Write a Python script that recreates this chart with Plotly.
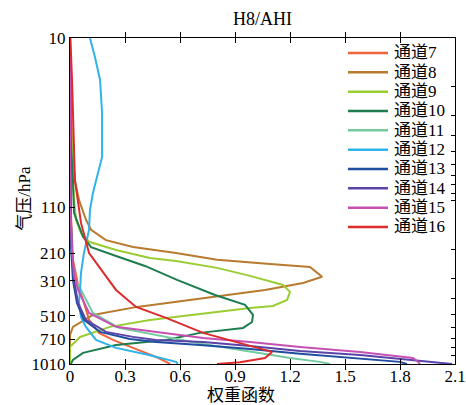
import plotly.graph_objects as go

# ---- data (weighting function vs pressure) ----
channels = ["通道7", "通道8", "通道9", "通道10", "通道11", "通道12", "通道13", "通道14", "通道15", "通道16"]
colors = ["#f0643c", "#b87a2e", "#9acd32", "#1e7d4e", "#74cba0", "#2fb3ea", "#1f4ea0", "#5a44a8", "#c451b3", "#dc2b2b"]

p7 = [10, 100, 231, 330, 425, 541, 650, 718, 804, 914, 980, 1010]
w7 = [0, 0.002, 0.016, 0.044, 0.076, 0.104, 0.158, 0.235, 0.344, 0.469, 0.524, 0.546]

p8 = [10, 24, 49, 75, 99, 131, 151, 175, 193, 210, 231, 245, 256, 294, 321, 354, 380, 413, 450, 504, 597, 669, 1010]
w8 = [0, 0.005, 0.011, 0.027, 0.049, 0.087, 0.115, 0.196, 0.344, 0.578, 0.802, 1.091, 1.309, 1.375, 1.271, 1.064, 0.857, 0.60, 0.366, 0.125, 0.016, 0.0, 0.0]

p9 = [10, 32, 75, 99, 131, 158, 179, 201, 225, 235, 259, 290, 330, 364, 408, 444, 457, 504, 541, 597, 689, 793, 1010]
w9 = [0, 0.005, 0.016, 0.022, 0.033, 0.06, 0.104, 0.251, 0.436, 0.578, 0.802, 0.982, 1.162, 1.2, 1.184, 1.107, 0.982, 0.671, 0.436, 0.218, 0.055, 0, 0]

p10 = [10, 40, 75, 119, 167, 193, 219, 252, 307, 380, 437, 504, 557, 606, 650, 718, 771, 863, 953, 1010]
w10 = [0, 0.003, 0.016, 0.022, 0.071, 0.115, 0.251, 0.409, 0.584, 0.791, 0.955, 0.998, 0.993, 0.944, 0.709, 0.524, 0.251, 0.071, 0.016, 0.005]

p11 = [10, 100, 231, 307, 354, 490, 606, 669, 760, 851, 927, 980, 1010]
w11 = [0, 0.002, 0.011, 0.027, 0.06, 0.125, 0.267, 0.469, 0.726, 0.998, 1.2, 1.364, 1.418]

p12 = [10, 13.1, 18.1, 28.9, 53.9, 67.6, 89.7, 114, 151, 210, 278, 354, 425, 518, 597, 718, 804, 888, 980, 1010]
w12 = [0.109, 0.136, 0.164, 0.175, 0.175, 0.153, 0.125, 0.109, 0.104, 0.076, 0.06, 0.055, 0.049, 0.06, 0.087, 0.142, 0.251, 0.431, 0.578, 0.589]

p13 = [10, 100, 187, 307, 425, 541, 641, 708, 739, 771, 816, 875, 927, 980, 1010]
w13 = [0, 0.001, 0.005, 0.016, 0.038, 0.076, 0.164, 0.327, 0.469, 0.709, 0.982, 1.255, 1.528, 1.80, 1.838]

p14 = [10, 100, 201, 307, 425, 541, 641, 688, 718, 739, 782, 839, 888, 953, 1010]
w14 = [0, 0.001, 0.011, 0.022, 0.044, 0.087, 0.196, 0.344, 0.469, 0.726, 0.982, 1.255, 1.582, 1.871, 2.084]

p15 = [10, 100, 201, 286, 354, 490, 597, 641, 698, 739, 793, 851, 927, 980, 1010]
w15 = [0, 0.001, 0.011, 0.022, 0.044, 0.104, 0.251, 0.469, 0.726, 0.982, 1.255, 1.582, 1.871, 1.899, 1.909]

p16 = [10, 18, 75, 99, 137, 210, 294, 354, 450, 526, 650, 771, 851, 927, 985, 1010]
w16 = [0.002, 0.011, 0.027, 0.044, 0.06, 0.104, 0.196, 0.251, 0.36, 0.524, 0.726, 0.966, 1.102, 1.064, 0.927, 0.802]

pressures = [p7, p8, p9, p10, p11, p12, p13, p14, p15, p16]
weights = [w7, w8, w9, w10, w11, w12, w13, w14, w15, w16]

ytick_vals = [10, 110, 210, 310, 510, 710, 1010]
ytick_text = ["10", "110", "210", "310", "510", "710", "1010"]
xtick_vals = [0, 0.3, 0.6, 0.9, 1.2, 1.5, 1.8, 2.1]
xtick_text = ["0", "0.3", "0.6", "0.9", "1.2", "1.5", "1.8", "2.1"]
minor_p = [20, 30, 40, 50, 60, 70, 80, 90, 100, 200, 300, 400, 500, 600, 700, 800, 900, 1000]

SERIF = "Liberation Serif, Times New Roman, Noto Sans CJK SC, serif"

fig = go.Figure()
for name, col, p, w in zip(channels, colors, pressures, weights):
    fig.add_trace(go.Scatter(x=w, y=p, mode="lines", name=name, showlegend=False,
                             line=dict(color=col, width=2)))

# invisible trace on secondary y-axis for right-side minor ticks
fig.add_trace(go.Scatter(x=[0], y=[100], yaxis="y2", mode="markers",
                         marker=dict(opacity=0), showlegend=False, hoverinfo="skip"))

# legend drawn inside the plot (top right), one row per channel
shapes = []
annotations = []
row0, rowstep = 0.954, 0.0593
for i, (name, col) in enumerate(zip(channels, colors)):
    yy = row0 - i * rowstep
    shapes.append(dict(type="line", xref="paper", yref="paper",
                       x0=0.722, x1=0.826, y0=yy, y1=yy,
                       line=dict(color=col, width=2.5)))
    annotations.append(dict(text=name, xref="paper", yref="paper", x=0.836, y=yy,
                            xanchor="left", yanchor="middle", showarrow=False,
                            font=dict(family=SERIF, size=17, color="black")))

annotations += [
    dict(text="权重函数", xref="paper", yref="paper", x=0.445, y=-0.097,
         xanchor="center", yanchor="middle", showarrow=False,
         font=dict(family=SERIF, size=17, color="black")),
    dict(text="气压/hPa", xref="paper", yref="paper", x=-0.117, y=0.51,
         xanchor="center", yanchor="middle", showarrow=False, textangle=-90,
         font=dict(family=SERIF, size=17, color="black")),
]

yr = [3.00432, 1.0]
fig.update_layout(
    width=466, height=405,
    margin=dict(l=70, r=11, t=38, b=41, autoexpand=False),
    paper_bgcolor="white", plot_bgcolor="white",
    font=dict(family=SERIF, size=16, color="black"),
    title=dict(text="H8/AHI", x=0.5, xref="paper", xanchor="center", y=0.955, yanchor="middle",
               font=dict(family=SERIF, size=18, color="black")),
    xaxis=dict(range=[0, 2.1], tickvals=xtick_vals, ticktext=xtick_text,
               ticks="inside", ticklen=5, tickcolor="black", automargin=False,
               ticklabelstandoff=-3,
               showline=True, linecolor="black", linewidth=1, mirror="allticks",
               showgrid=False, zeroline=False,
               tickfont=dict(family=SERIF, size=17)),
    yaxis=dict(type="log", range=yr, tickvals=ytick_vals, ticktext=ytick_text,
               ticks="inside", ticklen=5, tickcolor="black", automargin=False,
               showline=True, linecolor="black", linewidth=1, mirror=True,
               showgrid=False, zeroline=False,
               tickfont=dict(family=SERIF, size=17)),
    yaxis2=dict(type="log", range=yr, overlaying="y", side="right", automargin=False,
                tickvals=minor_p, ticks="inside", ticklen=4, tickcolor="black",
                showticklabels=False, showline=False, showgrid=False, zeroline=False),
    shapes=shapes,
    annotations=annotations,
)

fig.write_html("out.html", config={"displayModeBar": False},
               post_script="document.body.style.margin='0';document.body.style.padding='0';")
